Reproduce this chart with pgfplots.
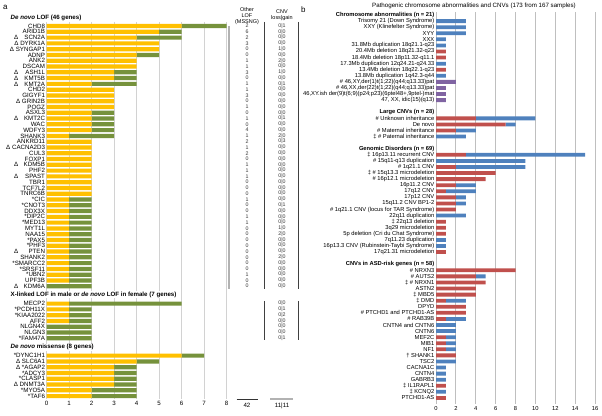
\documentclass[border=0pt]{standalone}
\usepackage{fontspec}
\setmainfont{Liberation Sans}
\usepackage{pgfplots}
\usepackage{pgfplotstable}
\pgfplotsset{compat=1.18}

\definecolor{dnyel}{HTML}{FFC000}
\definecolor{dngrn}{HTML}{76923C}
\definecolor{cnvred}{HTML}{C0504D}
\definecolor{cnvblue}{HTML}{4F81BD}
\definecolor{cnvpur}{HTML}{8064A2}
\definecolor{gridb}{HTML}{BFBFBF}

\newcommand\fa{\fontsize{6.2}{6.5}\selectfont}
\newcommand\fb{\fontsize{5.8}{6}\selectfont}
\newcommand\dl[1]{\makebox[31bp][l]{Δ\hfill #1}}

% panel a: de novo (yellow) and other (green) counts, one row per gene
\pgfplotstableread{
row yel grn
0 6 2
1 5 1
2 4 2
3 5 0
4 5 0
5 4 1
6 4 0
7 4 0
8 3 1
9 3 1
10 2 2
11 3 0
12 3 0
13 3 0
14 3 0
15 2 1
16 2 1
17 2 1
18 2 1
19 1 2
20 2 0
21 2 0
22 2 0
23 2 0
24 2 0
25 2 0
26 2 0
27 2 0
28 2 0
29 2 0
30 1 1
31 1 1
32 1 1
33 1 1
34 1 1
35 1 1
36 1 1
37 1 1
38 1 1
39 1 1
40 1 1
41 1 1
42 1 1
43 1 1
44 1 1
45 0 2
48 1 5
49 1 1
50 1 1
51 1 1
52 0 2
53 0 2
54 0 2
57 6 1
58 4 1
59 3 1
60 3 1
61 3 1
62 3 1
63 2 2
64 2 2
}\lofdata

% panel b: red, blue and purple counts
\pgfplotstableread{
row red blue pur
0 0 3 0
1 0 3 0
2 0 3 0
3 0 1 0
4 0 1 0
5 1 0 0
6 1 0 0
7 0 1 0
8 1 0 0
9 0 1 0
10 0 0 2
11 0 0 1
12 0 0 1
13 0 0 1
16 4 6 0
17 7 1 0
18 2 2 0
19 0 3 0
22 3 12 0
23 0 9 0
24 2 7 0
25 6 0 0
26 5 0 0
27 2 2 0
28 1 3 0
29 2 1 0
30 2 1 0
31 2 0 0
32 0 3 0
33 1 0 0
34 1 0 0
35 1 0 0
36 0 1 0
37 0 1 0
38 1 0 0
41 8 0 0
42 4 1 0
43 5 0 0
44 4 0 0
45 4 0 0
46 1 2 0
47 3 0 0
48 3 0 0
49 1 2 0
50 0 2 0
51 0 2 0
52 1 1 0
53 1 1 0
54 1 1 0
55 2 0 0
56 0 2 0
57 0 1 0
58 0 1 0
59 0 1 0
60 1 0 0
61 0 1 0
62 1 0 0
}\cnvdata

\begin{document}
\begin{tikzpicture}
\useasboundingbox (0,0) rectangle (602bp,416bp);

\begin{axis}[
  at={(46.7bp,394bp)}, anchor=north west,
  scale only axis, width=180bp, height=377bp,
  xbar stacked, bar width=4.2bp,
  xmin=0, xmax=8, ymin=-0.7, ymax=64.5, y dir=reverse,
  xtick={0,...,8}, ytick={0,...,64},
  yticklabels={CHD8,ARID1B,\dl{SCN2A},{Δ DYRK1A},{Δ SYNGAP1},ADNP,ANK2,DSCAM,
    \dl{ASH1L},\dl{KMT5B},\dl{KMT2A},CHD2,GIGYF1,{Δ GRIN2B},POGZ,ASXL3,\dl{KMT2C},
    WAC,WDFY3,SHANK3,ANKRD11,{Δ CACNA2D3},CUL3,FOXP1,\dl{KDM5B},PHF2,\dl{SPAST},
    TBR1,TCF7L2,TNRC6B,*CIC,*CNOT3,DDX3X,*DIP2C,*MED13,MYT1L,NAA15,*PAX5,*PHF3,
    \dl{PTEN},SHANK2,*SMARCC2,*SRSF11,*UBN2,UPF3B,\dl{KDM6A},{},{},
    MECP2,*PCDH11X,*KIAA2022,AFF2,NLGN4X,NLGN3,*FAM47A,{},{},
    *DYNC1H1,{Δ SLC6A1},{Δ *AGAP2},*ADCY3,*CLASP1,{Δ DNMT3A},*MYO5A,*TAF6},
  axis line style={draw=none}, tick style={draw=none},
  xmajorgrids, grid style={gray!35, line width=0.6bp},
  yticklabel style={font=\fa, inner xsep=1.5bp},
  xticklabel style={font=\fa, inner ysep=2bp},
  /pgf/number format/assume math mode=true,
  clip=false,
]
\addplot[fill=dnyel, draw=none] table[x=yel, y=row] {\lofdata};
\addplot[fill=dngrn, draw=none] table[x=grn, y=row] {\lofdata};
\end{axis}

\begin{axis}[
  at={(436bp,404bp)}, anchor=north west,
  scale only axis, width=159bp, height=392bp,
  xbar stacked, bar width=3.8bp,
  xmin=0, xmax=16, ymin=-1.5, ymax=63, y dir=reverse,
  xtick={0,2,...,16}, ytick={-1,...,62},
  yticklabels={{\textbf{Chromosome abnormalities (n = 21)}},
    {Trisomy 21 (Down Syndrome)},{XXY (Klinefelter Syndrome)},{XYY},{XXX},
    {31.8Mb duplication 18q21.1-q23},{20.4Mb deletion 18q21.32-q23},
    {18.4Mb deletion 18p11.32-q11.1},{17.3Mb duplication 12q24.21-q24.33},
    {13.4Mb deletion 18q22.1-q23},{13.8Mb duplication 1q42.3-q44},
    {\# 46,XY,der(1)t(1;22)(q44;q13.33)pat},
    {\#\ 46,XX,der(22)t(1;22)(q44;q13.33)pat},
    {46,XY.ish der(9)t(6;9)(p24;p23)(6ptel48+,9ptel-)mat},
    {47, XX, idic(15)(q13)},{},
    {\textbf{Large CNVs (n = 28)}},
    {\# Unknown inheritance},{De novo},{\# Maternal inheritance},
    {‡ \# Paternal inheritance},{},
    {\textbf{Genomic Disorders (n = 69)}},
    {‡ 16p13.11 recurrent CNV},{\# 15q11-q13 duplication},{\# 1q21.1 CNV},
    {‡ \# 15q13.3 microdeletion},{\# 16p12.1 microdeletion},{16p11.2 CNV},
    {17q12 CNV},{17p12 CNV},{15q11.2 CNV BP1-2},
    {\# 1q21.1 CNV (locus for TAR Syndrome)},{22q11 duplication},
    {‡ 22q13 deletion},{3q29 microdeletion},{5p deletion (Cri du Chat Syndrome)},
    {7q11.23 duplication},{16p13.3 CNV (Rubinstein-Taybi Syndrome)},
    {17q21.31 microdeletion},{},
    {\textbf{CNVs in ASD-risk genes (n = 58)}},
    {\# NRXN3},{\# AUTS2},{‡ \# NRXN1},{ASTN2},{‡ MBD5},{‡ DMD},{DPYD},
    {\# PTCHD1 and PTCHD1-AS},{\# RAB39B},{CNTN4 and CNTN6},{CNTN6},{MEF2C},
    {MIB1},{NF1},{† SHANK1},{TSC2},{CACNA1C},{CNTN4},{GABRB3},{‡ IL1RAPL1},
    {‡ KCNQ2},{PTCHD1-AS}},
  axis line style={draw=none}, tick style={draw=none},
  xmajorgrids, grid style={gridb, line width=0.9bp},
  yticklabel style={font=\fb, inner xsep=1.5bp},
  xticklabel style={font=\fb, inner ysep=2bp},
  /pgf/number format/assume math mode=true,
  clip=false,
]
\addplot[fill=cnvred, draw=none] table[x=red, y=row] {\cnvdata};
\addplot[fill=cnvblue, draw=none] table[x=blue, y=row] {\cnvdata};
\addplot[fill=cnvpur, draw=none] table[x=pur, y=row] {\cnvdata};
\end{axis}

\begin{scope}[x=1bp, y=1bp]
  % panel letters and headers
  \node[font=\fontsize{8}{8}\selectfont, anchor=west, inner sep=0] at (3,409) {a};
  \node[font=\fontsize{8}{8}\selectfont, anchor=west, inner sep=0] at (301,406) {b};
  \node[font=\fontsize{6.2}{7}\selectfont, inner sep=0] at (474,410) {Pathogenic chromosome abnormalities and CNVs (173 from 167 samples)};
  \node[font=\fa\bfseries, anchor=west, inner sep=0.5bp, fill=white] at (10,398) {\textit{De novo} LOF (46 genes)};
  \node[font=\fa\bfseries, anchor=west, inner sep=0.5bp, fill=white] at (10,121.3) {X-linked LOF in male or \textit{de novo} LOF in female (7 genes)};
  \node[font=\fa\bfseries, anchor=west, inner sep=0.5bp, fill=white] at (10,68.8) {\textit{De novo} missense (8 genes)};
  % column headers
  \node[font=\fontsize{5.5}{6}\selectfont, align=center, inner sep=0] at (247,400) {Other\\LOF\\(MSSNG)};
  \node[font=\fontsize{5.5}{6}\selectfont, align=center, inner sep=0] at (282,401) {CNV\\loss|gain};
  % column separators
  \draw[line width=1.8bp, gray!60] (229.3,390) -- (229.3,127);
  \draw[line width=0.8bp, black!75] (264.3,394) -- (264.3,127);
  \draw[line width=0.8bp, black!75] (298.5,394) -- (298.5,127);
  \draw[line width=0.8bp, black!75] (264.3,115) -- (264.3,76);
  \draw[line width=0.8bp, black!75] (298.5,115) -- (298.5,76);
  % other LOF (MSSNG) per gene
  \foreach \v [count=\i from 0] in {2,6,2,3,0,0,1,1,3,0,1,1,3,0,1,0,1,0,4,1,
      2,1,2,0,1,1,1,0,0,0,1,0,0,1,1,0,0,0,0,0,0,0,0,1,0,0}
    \node[font=\fontsize{5.3}{6}\selectfont, text=black!80, inner sep=0] at (247,{390-5.78*\i}) {\v};
  % CNV loss|gain per gene
  \foreach \v [count=\i from 0] in {0|1,0|0,0|0,0|0,1|0,0|0,2|0,0|0,1|0,0|0,
      0|1,0|0,0|0,0|0,0|0,0|0,0|1,0|0,0|0,2|0,
      0|3,0|0,0|0,0|0,0|0,0|0,0|0,0|0,0|0,0|0,
      0|0,0|1,0|0,0|0,0|0,1|0,2|0,0|0,0|0,0|0,2|0,0|0,0|0,0|0,0|0,0|0}
    \node[font=\fontsize{5.3}{6}\selectfont, text=black!80, inner sep=0] at (282,{390-5.78*\i}) {\v};
  \foreach \v [count=\i from 48] in {0|0,0|1,0|2,0|0,0|0,0|0,0|1}
    \node[font=\fontsize{5.3}{6}\selectfont, text=black!80, inner sep=0] at (282,{390-5.78*\i}) {\v};
  % totals
  \draw[line width=0.7bp, black!80] (236.5,17) -- (258,17);
  \draw[line width=1.2bp, gray!60] (270,17) -- (293,17);
  \node[font=\fa, inner sep=0] at (247,10.5) {42};
  \node[font=\fa, inner sep=0] at (282,10.5) {11|11};
\end{scope}
\end{tikzpicture}
\end{document}
